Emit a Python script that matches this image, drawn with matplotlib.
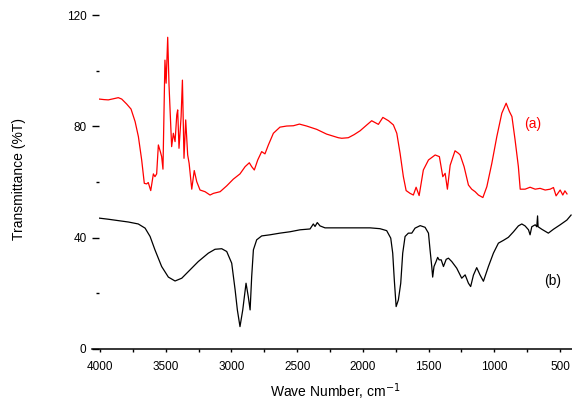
import matplotlib
matplotlib.use("Agg")
import matplotlib.pyplot as plt
from matplotlib.ticker import MultipleLocator

plt.rcParams['font.family'] = ['Liberation Sans', 'DejaVu Sans']

# spectrum (a), red
wn_a = [4007, 3969, 3937, 3898, 3861, 3835, 3797, 3764, 3733, 3708, 3683, 3663, 3645, 3633,
        3614, 3594, 3582, 3569, 3556, 3541, 3531, 3521, 3506, 3497, 3485, 3475, 3455, 3442,
        3429, 3416, 3409, 3399, 3383, 3373, 3361, 3348, 3333, 3322, 3302, 3283, 3264, 3239,
        3201, 3163, 3137, 3086, 3036, 2986, 2935, 2896, 2864, 2846, 2826, 2800, 2770, 2745,
        2719, 2681, 2631, 2580, 2529, 2483, 2428, 2351, 2276, 2187, 2161, 2111, 2067, 2021,
        1970, 1933, 1882, 1848, 1805, 1768, 1742, 1717, 1692, 1671, 1641, 1616, 1595, 1572,
        1540, 1501, 1450, 1418, 1392, 1374, 1357, 1336, 1299, 1273, 1260, 1230, 1197, 1172,
        1146, 1121, 1087, 1057, 1019, 981, 943, 910, 885, 866, 842, 817, 803, 766, 728, 689,
        652, 613, 575, 550, 530, 499, 479, 463, 447]
t_a = [89.8, 89.6, 89.5, 89.9, 90.3, 89.8, 88.0, 86.2, 81.7, 76.3, 67.9, 59.5, 59.3, 59.8,
       56.9, 62.9, 61.9, 62.9, 73.3, 70.9, 69.1, 64.6, 103.8, 95.5, 112.0, 94.9, 72.7, 77.5,
       74.5, 84.1, 85.9, 72.1, 83.5, 96.6, 68.5, 82.3, 69.7, 66.7, 57.4, 64.1, 60.1, 57.1,
       56.5, 55.3, 55.9, 56.5, 58.6, 61.0, 62.9, 65.5, 66.9, 65.5, 64.3, 67.9, 70.9, 70.1,
       73.3, 77.5, 79.7, 80.1, 80.2, 80.8, 80.1, 78.9, 77.2, 75.9, 75.7, 75.9, 77.0, 78.4,
       80.5, 82.0, 80.7, 83.2, 82.0, 80.5, 77.5, 70.3, 61.9, 56.9, 55.9, 55.3, 58.1, 55.1,
       64.3, 67.9, 69.7, 69.1, 61.9, 63.1, 57.4, 66.0, 71.2, 70.3, 69.7, 65.5, 58.9, 57.4,
       56.5, 55.3, 54.4, 58.3, 66.7, 76.3, 84.7, 88.3, 85.3, 83.5, 75.1, 65.5, 57.4, 57.4,
       58.1, 57.4, 57.7, 57.1, 57.4, 58.0, 55.0, 57.1, 55.3, 56.8, 55.7]

# spectrum (b), black
wn_b = [4007, 3937, 3861, 3784, 3709, 3657, 3619, 3582, 3531, 3480, 3429, 3378, 3315, 3252,
        3176, 3125, 3074, 3036, 2998, 2972, 2955, 2935, 2914, 2889, 2872, 2858, 2846, 2833,
        2808, 2770, 2707, 2631, 2554, 2478, 2402, 2377, 2364, 2347, 2326, 2288, 2199, 2072,
        1945, 1870, 1819, 1788, 1773, 1761, 1747, 1730, 1712, 1697, 1679, 1654, 1628, 1603,
        1564, 1527, 1501, 1489, 1476, 1469, 1459, 1443, 1431, 1420, 1404, 1387, 1366, 1349,
        1324, 1286, 1248, 1222, 1197, 1180, 1159, 1134, 1109, 1083, 1045, 1007, 969, 931,
        893, 854, 817, 791, 766, 740, 728, 715, 689, 677, 671, 667, 639, 589, 550, 499, 448, 416]
t_b = [47.0, 46.6, 46.1, 45.6, 44.9, 43.4, 40.4, 35.6, 29.6, 25.8, 24.4, 25.4, 28.4, 31.4,
       34.4, 35.8, 36.0, 35.0, 30.8, 21.2, 14.0, 8.0, 14.0, 23.6, 18.8, 14.0, 26.0, 35.6,
       39.2, 40.6, 41.0, 41.6, 42.1, 42.8, 43.1, 44.9, 44.0, 45.4, 44.2, 43.5, 43.5, 43.5,
       43.5, 43.2, 42.5, 39.8, 34.4, 24.8, 15.2, 17.6, 23.6, 34.4, 40.4, 41.6, 41.6, 43.4,
       44.3, 43.7, 41.6, 35.6, 29.6, 25.8, 29.6, 31.4, 32.9, 32.0, 32.0, 29.6, 32.2, 32.6,
       31.4, 29.0, 25.4, 26.6, 23.6, 22.4, 26.5, 29.2, 26.6, 24.3, 29.6, 34.4, 38.0, 39.0,
       40.1, 42.1, 44.2, 44.9, 44.2, 42.8, 41.0, 43.9, 44.6, 43.9, 47.8, 43.9, 43.0, 41.6,
       43.0, 44.6, 46.3, 48.1]

fig = plt.figure(figsize=(5.72, 4.01), dpi=100)
ax = fig.add_axes([0.173, 0.13, 0.827, 0.845])

ax.plot(wn_a, t_a, color='#ff0000', lw=0.9)
ax.plot(wn_b, t_b, color='black', lw=0.9)

ax.text(705, 81, '(a)', color='#ff0000', fontsize=10, ha='center', va='center')
ax.text(560, 24.5, '(b)', color='black', fontsize=10, ha='center', va='center')

ax.set_xlim(4008, 409)
ax.set_ylim(0, 121.8)

for s in ['top', 'right', 'left']:
    ax.spines[s].set_visible(False)
ax.spines['bottom'].set_linewidth(1.1)
ax.spines['bottom'].set_bounds(4061, 409)

ax.xaxis.set_major_locator(MultipleLocator(500))
ax.xaxis.set_minor_locator(MultipleLocator(250))
ax.yaxis.set_major_locator(MultipleLocator(40))
ax.yaxis.set_minor_locator(MultipleLocator(20))
ax.tick_params(axis='x', which='major', direction='out', length=2.5, width=1, labelsize=8.5, pad=6)
ax.tick_params(axis='x', which='minor', direction='out', length=2, width=1)
ax.tick_params(axis='y', which='major', direction='out', length=5, width=1, labelsize=8.5, pad=4)
ax.tick_params(axis='y', which='minor', direction='out', length=2, width=1)

ax.set_xlabel('Wave Number, cm$^{-1}$', fontsize=10, labelpad=6)
ax.set_ylabel('Transmittance (%T)', fontsize=10, labelpad=29)

fig.savefig('out.png', dpi=100)
